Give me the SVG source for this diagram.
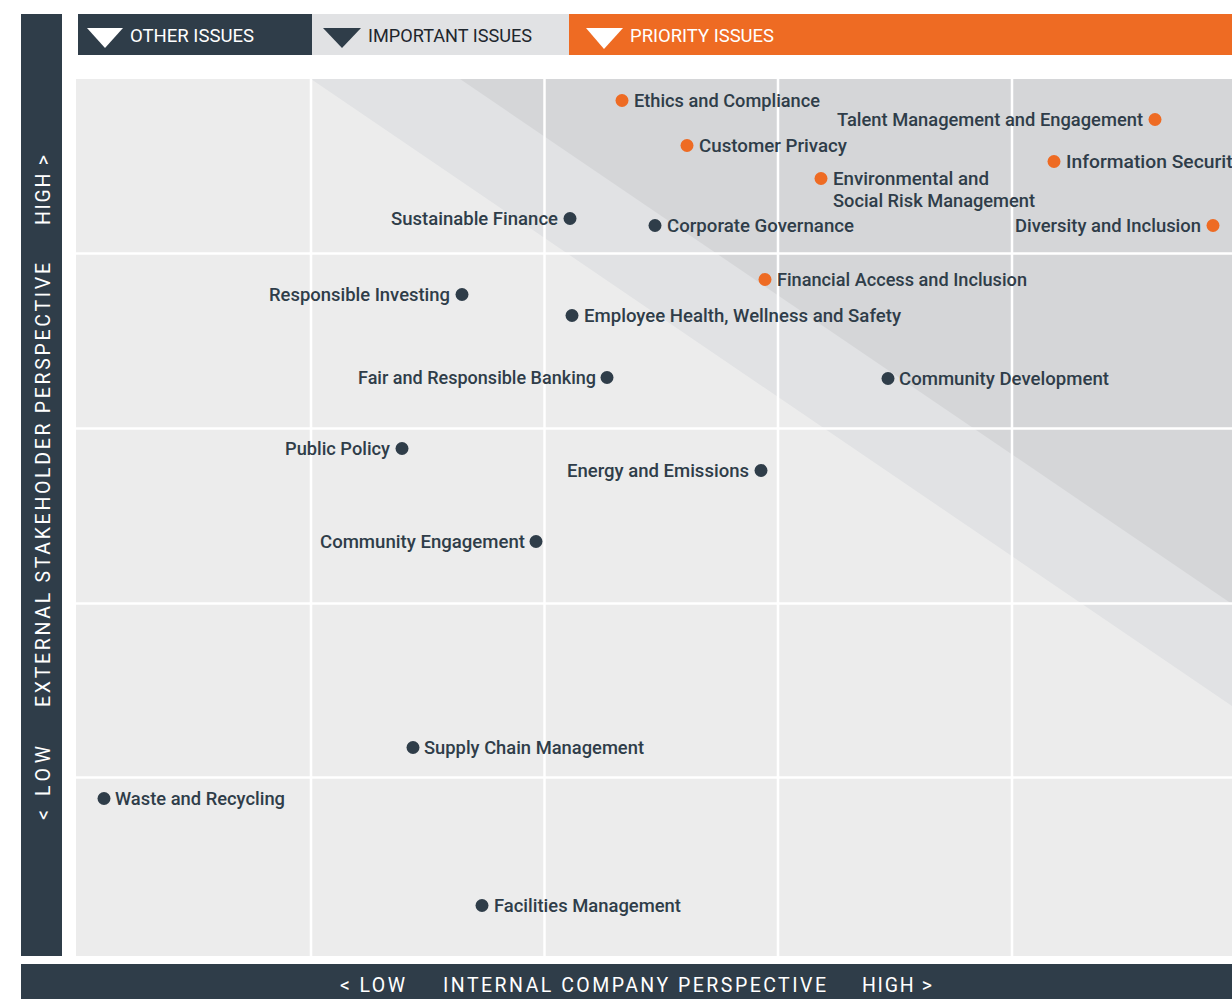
<svg xmlns="http://www.w3.org/2000/svg" width="1232" height="999" viewBox="0 0 1232 999">
<style>
.lbl{font-family:Roboto,"Liberation Sans",sans-serif;font-size:17.5px;font-weight:500;fill:#2f3d49;}
.hdr{font-family:Roboto,"Liberation Sans",sans-serif;font-size:18px;}
.axis{font-family:Roboto,"Liberation Sans",sans-serif;font-size:19.5px;fill:#ffffff;}
.dk{fill:#2f3d49;}
.or{fill:#ee6b23;}
.grid{stroke:#ffffff;stroke-width:2.5;}
</style>
<rect width="1232" height="999" fill="#ffffff"/>
<g id="plot">
<rect x="76" y="79" width="1156" height="877" fill="#ececec"/>
<polygon points="311,79 1232,79 1232,706" fill="#e1e2e4"/>
<polygon points="460,79 1232,79 1232,604" fill="#d5d6d8"/>
<g class="grid">
<line x1="311" y1="79" x2="311" y2="956"/>
<line x1="544.5" y1="79" x2="544.5" y2="956"/>
<line x1="778" y1="79" x2="778" y2="956"/>
<line x1="1012" y1="79" x2="1012" y2="956"/>
<line x1="76" y1="253.5" x2="1232" y2="253.5"/>
<line x1="76" y1="428.5" x2="1232" y2="428.5"/>
<line x1="76" y1="603.5" x2="1232" y2="603.5"/>
<line x1="76" y1="777.5" x2="1232" y2="777.5"/>
</g>
</g>
<g id="legend">
<rect x="78" y="14" width="234" height="41" fill="#2f3d49"/>
<rect x="312" y="14" width="257" height="41" fill="#e1e2e4"/>
<rect x="569" y="14" width="663" height="41" fill="#ee6b23"/>
<polygon points="87,28 123,28 105,48" fill="#ffffff"/>
<polygon points="323,28 361,28 342,48" fill="#2f3d49"/>
<polygon points="586,28 623,28 604,49" fill="#ffffff"/>
<text class="hdr" x="130" y="42" fill="#ffffff" textLength="124" lengthAdjust="spacingAndGlyphs">OTHER ISSUES</text>
<text class="hdr" x="368" y="42" fill="#1e262d" textLength="164" lengthAdjust="spacingAndGlyphs">IMPORTANT ISSUES</text>
<text class="hdr" x="630" y="42" fill="#ffffff" textLength="144" lengthAdjust="spacingAndGlyphs">PRIORITY ISSUES</text>
</g>
<g id="y-axis">
<rect x="21" y="14" width="41" height="942" fill="#2f3d49"/>
<text class="axis" transform="translate(49.5,820) rotate(-90)" x="0" y="0" textLength="74" lengthAdjust="spacing">&lt; LOW</text>
<text class="axis" transform="translate(49.5,707) rotate(-90)" x="0" y="0" textLength="444" lengthAdjust="spacing">EXTERNAL STAKEHOLDER PERSPECTIVE</text>
<text class="axis" transform="translate(49.5,225) rotate(-90)" x="0" y="0" textLength="70" lengthAdjust="spacing">HIGH &gt;</text>
</g>
<g id="x-axis">
<rect x="21" y="964" width="1211" height="35" fill="#2f3d49"/>
<text class="axis" x="340" y="992" textLength="65" lengthAdjust="spacing">&lt; LOW</text>
<text class="axis" x="443" y="992" textLength="383" lengthAdjust="spacing">INTERNAL COMPANY PERSPECTIVE</text>
<text class="axis" x="862" y="992" textLength="70" lengthAdjust="spacing">HIGH &gt;</text>
</g>
<g id="ethics-compliance"><circle class="or" cx="622" cy="100.5" r="6.5"/><text class="lbl" x="634" y="107" textLength="186" lengthAdjust="spacingAndGlyphs">Ethics and Compliance</text></g>
<g id="talent-management"><circle class="or" cx="1155" cy="119.5" r="6.5"/><text class="lbl" x="837" y="126" textLength="306" lengthAdjust="spacingAndGlyphs">Talent Management and Engagement</text></g>
<g id="customer-privacy"><circle class="or" cx="687" cy="145.5" r="6.5"/><text class="lbl" x="699" y="152" textLength="148" lengthAdjust="spacingAndGlyphs">Customer Privacy</text></g>
<g id="information-security"><circle class="or" cx="1054" cy="161.5" r="6.5"/><text class="lbl" x="1066" y="168" textLength="176" lengthAdjust="spacingAndGlyphs">Information Security</text></g>
<g id="environmental-social-risk"><circle class="or" cx="821" cy="178.5" r="6.5"/><text class="lbl" x="833" y="185" textLength="156" lengthAdjust="spacingAndGlyphs">Environmental and</text><text class="lbl" x="833" y="207" textLength="202" lengthAdjust="spacingAndGlyphs">Social Risk Management</text></g>
<g id="diversity-inclusion"><circle class="or" cx="1213" cy="225.5" r="6.5"/><text class="lbl" x="1015" y="232" textLength="186" lengthAdjust="spacingAndGlyphs">Diversity and Inclusion</text></g>
<g id="sustainable-finance"><circle class="dk" cx="570" cy="218.5" r="6.5"/><text class="lbl" x="391" y="225" textLength="167" lengthAdjust="spacingAndGlyphs">Sustainable Finance</text></g>
<g id="corporate-governance"><circle class="dk" cx="655" cy="225.5" r="6.5"/><text class="lbl" x="667" y="232" textLength="187" lengthAdjust="spacingAndGlyphs">Corporate Governance</text></g>
<g id="financial-access"><circle class="or" cx="765" cy="279.5" r="6.5"/><text class="lbl" x="777" y="286" textLength="250" lengthAdjust="spacingAndGlyphs">Financial Access and Inclusion</text></g>
<g id="responsible-investing"><circle class="dk" cx="462" cy="294.5" r="6.5"/><text class="lbl" x="269" y="301" textLength="181" lengthAdjust="spacingAndGlyphs">Responsible Investing</text></g>
<g id="employee-health"><circle class="dk" cx="572" cy="315.5" r="6.5"/><text class="lbl" x="584" y="322" textLength="317" lengthAdjust="spacingAndGlyphs">Employee Health, Wellness and Safety</text></g>
<g id="fair-banking"><circle class="dk" cx="607" cy="377.5" r="6.5"/><text class="lbl" x="358" y="384" textLength="238" lengthAdjust="spacingAndGlyphs">Fair and Responsible Banking</text></g>
<g id="community-development"><circle class="dk" cx="888" cy="378.5" r="6.5"/><text class="lbl" x="899" y="385" textLength="210" lengthAdjust="spacingAndGlyphs">Community Development</text></g>
<g id="public-policy"><circle class="dk" cx="402" cy="448.5" r="6.5"/><text class="lbl" x="285" y="455" textLength="105" lengthAdjust="spacingAndGlyphs">Public Policy</text></g>
<g id="energy-emissions"><circle class="dk" cx="761" cy="470.5" r="6.5"/><text class="lbl" x="567" y="477" textLength="182" lengthAdjust="spacingAndGlyphs">Energy and Emissions</text></g>
<g id="community-engagement"><circle class="dk" cx="536" cy="541.5" r="6.5"/><text class="lbl" x="320" y="548" textLength="205" lengthAdjust="spacingAndGlyphs">Community Engagement</text></g>
<g id="supply-chain"><circle class="dk" cx="413" cy="747.5" r="6.5"/><text class="lbl" x="424" y="754" textLength="220" lengthAdjust="spacingAndGlyphs">Supply Chain Management</text></g>
<g id="waste-recycling"><circle class="dk" cx="104" cy="798.5" r="6.5"/><text class="lbl" x="115" y="805" textLength="170" lengthAdjust="spacingAndGlyphs">Waste and Recycling</text></g>
<g id="facilities-management"><circle class="dk" cx="482" cy="905.5" r="6.5"/><text class="lbl" x="494" y="912" textLength="187" lengthAdjust="spacingAndGlyphs">Facilities Management</text></g>
</svg>
